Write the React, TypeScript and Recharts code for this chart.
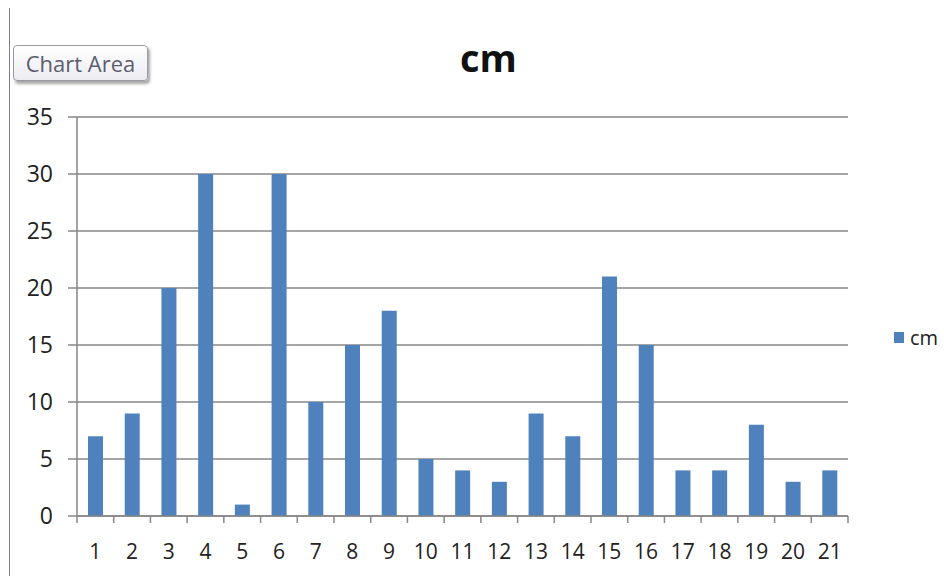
import React from 'react';
import { BarChart, Bar, XAxis, YAxis, CartesianGrid, Legend } from 'recharts';

document.body.style.margin = '0';

const categories = ['1', '2', '3', '4', '5', '6', '7', '8', '9', '10', '11', '12', '13', '14', '15', '16', '17', '18', '19', '20', '21'];
const cmValues = [7, 9, 20, 30, 1, 30, 10, 15, 18, 5, 4, 3, 9, 7, 21, 15, 4, 4, 8, 3, 4];
const yTicks = [0, 5, 10, 15, 20, 25, 30, 35];
const seriesName = 'cm';
const titleText = 'cm';
const buttonText = 'Chart Area';

const data = categories.map((c, i) => ({ name: c, cm: cmValues[i] }));

const AXIS = '#878787';
const BAR = '#4F81BD';
const FONT = '"Open Sans", "DejaVu Sans", sans-serif';
const TEXT = '#222222';

const XTick = (props: any) => {
  const { x, y, payload, index, visibleTicksCount } = props;
  const off = payload && typeof payload.offset === 'number' ? payload.offset : 0;
  const isLast = index === visibleTicksCount - 1;
  return (
    <g>
      <line x1={x - off} x2={x - off} y1={y} y2={y + 7} stroke={AXIS} strokeWidth={1.5} />
      {isLast && <line x1={x + off} x2={x + off} y1={y} y2={y + 7} stroke={AXIS} strokeWidth={1.5} />}
      <text x={x} y={y} dy={43} textAnchor="middle" fill={TEXT} fontSize={21} fontFamily={FONT}>
        {payload.value}
      </text>
    </g>
  );
};

const LegendContent = () => (
  <div style={{ display: 'flex', alignItems: 'center', fontFamily: FONT, fontSize: 20, color: TEXT }}>
    <span style={{ display: 'inline-block', width: 10, height: 11, background: BAR, marginRight: 6 }} />
    <span>{seriesName}</span>
  </div>
);

export default function App() {
  return (
    <div style={{ position: 'relative', width: 944, height: 576, background: '#fff', overflow: 'hidden' }}>
      <BarChart
        width={944}
        height={576}
        data={data}
        margin={{ top: 117, right: 96, bottom: 0, left: 0 }}
        barCategoryGap="30%"
      >
        <CartesianGrid vertical={false} stroke={AXIS} strokeWidth={1.5} />
        <XAxis
          dataKey="name"
          interval={0}
          tickLine={false}
          tickSize={0}
          tickMargin={0}
          axisLine={{ stroke: AXIS, strokeWidth: 1.5 }}
          tick={<XTick />}
          height={60}
        />
        <YAxis
          width={77}
          domain={[0, 35]}
          ticks={yTicks}
          interval={0}
          tickSize={9}
          tickMargin={15}
          axisLine={{ stroke: AXIS, strokeWidth: 1.5 }}
          tickLine={{ stroke: AXIS, strokeWidth: 1.5 }}
          tick={{ fill: TEXT, fontSize: 23, fontFamily: FONT }}
        />
        <Legend
          layout="horizontal"
          verticalAlign="middle"
          align="center"
          content={<LegendContent />}
          wrapperStyle={{ left: 894, top: 324, width: 50, height: 26 }}
        />
        <Bar dataKey="cm" name={seriesName} fill={BAR} isAnimationActive={false} />
      </BarChart>
      <div
        style={{
          position: 'absolute',
          left: 0,
          top: 33,
          width: 944,
          textAlign: 'center',
          paddingLeft: 33,
          boxSizing: 'border-box',
          fontFamily: FONT,
          fontWeight: 700,
          fontSize: 38,
          color: '#111',
          lineHeight: '48px',
        }}
      >
        {titleText}
      </div>
      <div
        style={{
          position: 'absolute',
          left: 13,
          top: 45,
          width: 135,
          height: 36,
          border: '1px solid #9a9aa6',
          borderRadius: 4,
          background: 'linear-gradient(#ffffff, #ececf2)',
          boxShadow: '2px 3px 3px rgba(0,0,0,0.35)',
          fontFamily: FONT,
          fontSize: 22,
          color: '#5c5d6e',
          display: 'flex',
          alignItems: 'center',
          justifyContent: 'center',
          boxSizing: 'border-box',
        }}
      >
        {buttonText}
      </div>
      <div style={{ position: 'absolute', left: 9, top: 8, width: 0, height: 568, borderLeft: '1.5px solid #808080' }} />
    </div>
  );
}
